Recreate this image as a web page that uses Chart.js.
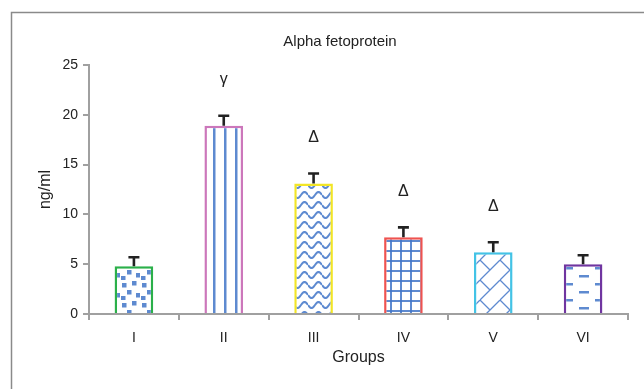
<!DOCTYPE html>
<html>
<head>
<meta charset="utf-8">
<script src="https://cdn.jsdelivr.net/npm/chart.js@4.4.0/dist/chart.umd.min.js"></script>
<style>
  body { margin: 0; background: #fff; }
  #wrap { width: 644px; height: 389px; }
</style>
</head>
<body>
<div id="wrap"><canvas id="chart1" width="644" height="389"></canvas></div>
<script>
// ----- datos -----
const groups = ["I", "II", "III", "IV", "V", "VI"];
const afpMeans = [4.8, 18.9, 13.1, 7.7, 6.2, 5.0];
const afpErrors = [0.9, 1.0, 1.0, 1.0, 1.0, 0.9];
const significance = ["", "γ", "Δ", "Δ", "Δ", ""];
const yTicks = [0, 5, 10, 15, 20, 25];

const borderColors = ["#2bb04a", "#cc77bb", "#f2e526", "#ef5350", "#43c3e6", "#7035a0"];
const blue = "rgba(66, 118, 200, 0.85)";

// ----- patrones de relleno -----
function tile(w, h, draw) {
  const c = document.createElement("canvas");
  c.width = w;
  c.height = h;
  const g = c.getContext("2d");
  g.fillStyle = "#fff";
  g.fillRect(0, 0, w, h);
  g.strokeStyle = blue;
  g.fillStyle = blue;
  g.lineWidth = 2;
  draw(g);
  return c.getContext("2d").createPattern(c, "repeat");
}

const patterns = [
  // puntos
  tile(20, 20, (g) => {
    [[2, 3], [12, 1], [7, 10], [16, 13], [1, 16]].forEach(([x, y]) => g.fillRect(x, y, 4.5, 4.5));
  }),
  // lineas verticales
  tile(11, 10, (g) => {
    g.fillRect(4, 0, 2.5, 10);
  }),
  // ondas
  tile(14, 10, (g) => {
    g.beginPath();
    for (let x = 0; x <= 14; x++) {
      const y = 5 + 3 * Math.sin((x / 14) * Math.PI * 2);
      x === 0 ? g.moveTo(x, y) : g.lineTo(x, y);
    }
    g.stroke();
  }),
  // cuadricula
  tile(10, 10, (g) => {
    g.fillRect(0, 0, 2, 10);
    g.fillRect(0, 0, 10, 2);
  }),
  // enrejado diagonal
  tile(20, 20, (g) => {
    g.lineWidth = 1.3;
    g.beginPath();
    g.moveTo(0, 20); g.lineTo(20, 0);
    g.moveTo(-1, -1); g.lineTo(10, 10);
    g.moveTo(10, 30); g.lineTo(20, 20);
    g.stroke();
  }),
  // guiones
  tile(32, 16, (g) => {
    g.fillRect(3, 3, 10, 2.5);
    g.fillRect(19, 11, 10, 2.5);
  }),
];

// ----- plugin: marco, titulo, barras de error y marcas -----
const extras = {
  id: "extras",
  beforeDraw(chart) {
    const ctx = chart.ctx;
    ctx.save();
    ctx.fillStyle = "#fff";
    ctx.fillRect(0, 0, chart.width, chart.height);
    ctx.strokeStyle = "#8a8a8a";
    ctx.lineWidth = 1.5;
    ctx.beginPath();
    ctx.moveTo(11.5, chart.height);
    ctx.lineTo(11.5, 12.5);
    ctx.lineTo(chart.width, 12.5);
    ctx.stroke();
    ctx.fillStyle = "#222";
    ctx.font = "15px 'Liberation Sans', Arial, sans-serif";
    ctx.textAlign = "center";
    ctx.textBaseline = "middle";
    ctx.fillText("Alpha fetoprotein", 340, 42);
    ctx.restore();
  },
  afterDatasetsDraw(chart) {
    const ctx = chart.ctx;
    const y = chart.scales.y;
    const meta = chart.getDatasetMeta(0);
    ctx.save();
    ctx.strokeStyle = "#222";
    ctx.lineWidth = 2.6;
    meta.data.forEach((bar, i) => {
      const top = y.getPixelForValue(afpMeans[i] + afpErrors[i]);
      const base = y.getPixelForValue(afpMeans[i]);
      ctx.beginPath();
      ctx.moveTo(bar.x, base);
      ctx.lineTo(bar.x, top);
      ctx.moveTo(bar.x - 5.5, top);
      ctx.lineTo(bar.x + 5.5, top);
      ctx.stroke();
      if (significance[i]) {
        ctx.fillStyle = "#222";
        ctx.font = "16px 'Liberation Sans', Arial, sans-serif";
        ctx.textAlign = "center";
        ctx.textBaseline = "middle";
        ctx.fillText(significance[i], bar.x, top - 36);
      }
    });
    ctx.restore();
  },
};

const font = { family: "'Liberation Sans', Arial, sans-serif", size: 14 };
const titleFont = { family: "'Liberation Sans', Arial, sans-serif", size: 16 };

const myChart1 = new Chart(document.getElementById("chart1"), {
  type: "bar",
  data: {
    labels: groups,
    datasets: [
      {
        label: "Alpha fetoprotein",
        data: afpMeans,
        backgroundColor: patterns,
        borderColor: borderColors,
        borderWidth: 2.5,
        barPercentage: 0.43,
        categoryPercentage: 1,
      },
    ],
  },
  options: {
    responsive: false,
    animation: false,
    layout: { padding: { top: 65, left: 32, right: 16, bottom: 18 } },
    plugins: {
      legend: { display: false },
      tooltip: { enabled: false },
      title: { display: false },
    },
    scales: {
      x: {
        afterFit: (s) => { s.height = 57; },
        border: { color: "#a0a0a0", width: 2 },
        grid: { drawOnChartArea: false, color: "#a0a0a0", lineWidth: 2, tickLength: 6, offset: true },
        ticks: { color: "#222", font: font, padding: 10 },
        title: { display: true, text: "Groups", color: "#222", font: titleFont, padding: 4 },
      },
      y: {
        min: 0,
        max: 25,
        afterFit: (s) => { s.width = 57; },
        afterBuildTicks: (s) => { s.ticks = yTicks.map((v) => ({ value: v })); },
        border: { color: "#a0a0a0", width: 2 },
        grid: { drawOnChartArea: false, color: "#a0a0a0", lineWidth: 2, tickLength: 6 },
        ticks: { color: "#222", font: font, padding: 5 },
        title: { display: true, text: "ng/ml", color: "#222", font: titleFont, padding: 4 },
      },
    },
  },
  plugins: [extras],
});
</script>
</body>
</html>
